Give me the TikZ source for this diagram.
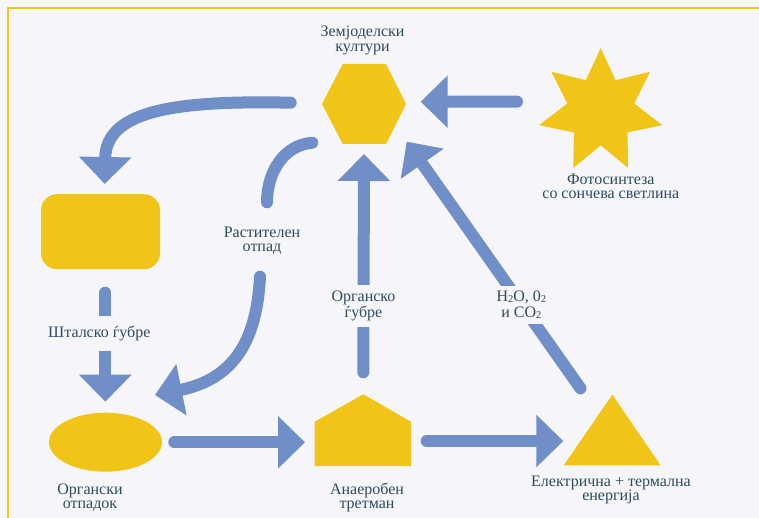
\documentclass[tikz,border=0pt]{standalone}
\usepackage{fontspec}
\setmainfont{Liberation Serif}
\usetikzlibrary{arrows.meta,shapes.geometric,calc}
\definecolor{bg}{RGB}{246,246,250}
\definecolor{yel}{RGB}{241,197,24}
\definecolor{blu}{RGB}{112,143,200}
\definecolor{txt}{RGB}{45,75,95}
\newcommand\lowtwo{\raisebox{-0.12ex}{\fontsize{10.5}{10.5}\selectfont 2}}
\begin{document}
\begin{tikzpicture}[x=1pt,y=-1pt,
  lab/.style={text=txt, font=\fontsize{16}{14.5}\selectfont, align=center, inner sep=0pt},
  gap/.style={lab, fill=bg, inner xsep=2pt},
  arr/.style={draw=blu, line width=12pt, line cap=round, -{Triangle[width=51pt,length=27pt]}},
  ln/.style={draw=blu, line width=12pt, line cap=round},
  shp/.style={fill=yel, inner sep=0pt}
]
\useasboundingbox (0,0) rectangle (759,518);
\fill[bg] (0,0) rectangle (759,518);
\draw[yel, line width=2.3pt] (8.3,518) -- (8.3,7.8) -- (759,7.8);

% shapes
\fill[yel] (322,104) -- (342.7,64) -- (386,64) -- (406,104) -- (386,144) -- (342.7,144) -- cycle;
\node[inner sep=0pt, minimum width=84pt, minimum height=80pt] (hex) at (364,104) {};
\node[shp, star, star points=7, star point ratio=1.84, minimum size=126.2pt] (star) at (600.7,111.1) {};
\node[shp, rectangle, rounded corners=16pt, minimum width=119pt, minimum height=75pt] (stable) at (100.5,231.7) {};
\node[shp, ellipse, minimum width=113pt, minimum height=59pt] (waste) at (105.5,442.2) {};
\fill[yel] (314.7,466) -- (314.7,421.7) -- (363.3,394.3) -- (411,421.7) -- (411,466) -- cycle;
\node[inner sep=0pt, minimum width=96.3pt, minimum height=71.7pt] (anaer) at (362.85,430.2) {};
\fill[yel] (563.7,465.3) -- (612.3,394.7) -- (660.7,465.3) -- cycle;
\node[inner sep=0pt, minimum width=97pt, minimum height=70.6pt] (energy) at (612.2,430) {};

% labels
\node[lab] (l-hex) at (362.5,40.5) {Земјоделски\\култури};
\node[lab] (l-star) at (610.8,186.5) {Фотосинтеза\\со сончева светлина};
\node[lab] (rast) at (262,241) {Растителен\\отпад};
\node[lab] (l-waste) at (90,497.5) {Органски\\отпадок};
\node[lab] (l-anaer) at (367,497.5) {Анаеробен\\третман};
\node[lab] (l-energy) at (611,490) {Електрична + термална\\енергија};

% connectors
\draw[arr] ($(star)+(-83.7,-9.4)$) -- ($(hex)+(56.7,-2.3)$);
\draw[arr] ($(hex)+(-73.3,-1.3)$) .. controls (170,100) and (106,112) .. ($(stable)+(4.2,-47.7)$);
\draw[ln] ($(hex)+(-51.7,38.7)$) .. controls (284,145) and (267,172) .. ($(rast)+(5,-38.7)$);
\draw[arr] ($(rast)+(-2,35.7)$) .. controls (257,332) and (240,378) .. ($(waste)+(49.5,-47.2)$);
\draw[arr] ($(stable)+(4.8,61)$) -- node[gap, pos=0.37, xshift=-6pt, minimum height=35pt] (l-stal) {Шталско ѓубре} ($(waste)+(-0.2,-40.5)$);
\draw[arr] ($(anaer)+(0.45,-57.9)$) -- node[gap, pos=0.306, minimum height=42pt] (l-org) {Органско\\ѓубре} ($(hex)+(0,50)$);
\draw[arr] ($(energy)+(-31.7,-41.6)$) -- node[gap, pos=0.34, minimum height=38pt, font=\fontsize{16}{15.5}\selectfont] (l-gas) {H\lowtwo O, 0\lowtwo\\и CO\lowtwo} ($(hex)+(42.7,37.7)$);
\draw[arr] ($(waste)+(68.8,0.1)$) -- ($(anaer)+(-57.85,12.1)$);
\draw[arr] ($(anaer)+(63.85,10.8)$) -- ($(energy)+(-48.9,11)$);
\end{tikzpicture}
\end{document}
